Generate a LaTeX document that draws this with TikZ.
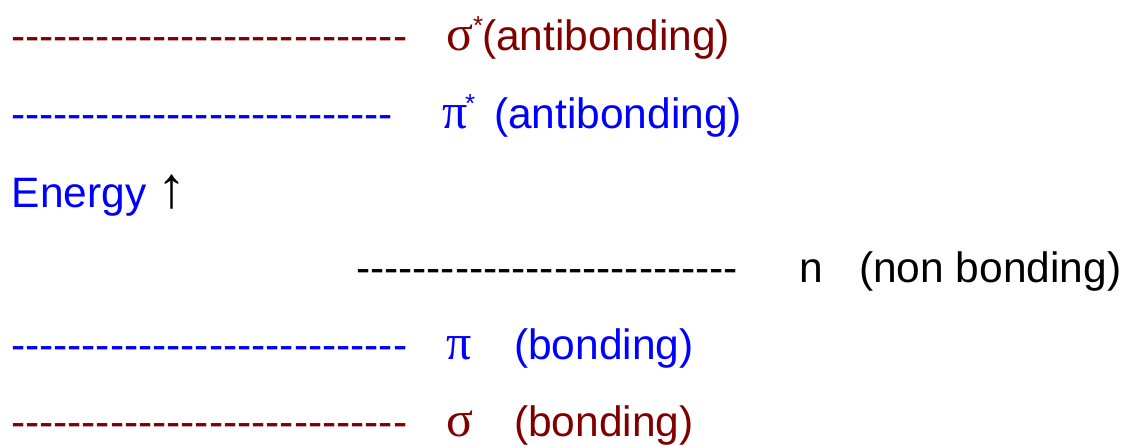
\documentclass[tikz,border=0pt]{standalone}
\usepackage{fontspec}
\setmainfont{Liberation Sans}
\newfontfamily\grk{Liberation Serif}
\definecolor{dred}{HTML}{800000}
\definecolor{lblue}{HTML}{0000FF}
\newcommand\dashrow[1]{\foreach\k in {1,...,#1}{-{}}}
\newcommand\supstar{\raisebox{16pt}{\fontsize{26}{26}\selectfont *}}
\begin{document}
\begin{tikzpicture}[x=1pt,y=-1pt,
  txt/.style={inner sep=0pt,outer sep=0pt,anchor=base west,font=\fontsize{42.5}{50}\selectfont},
  greek/.style={txt,font=\fontsize{50}{56}\selectfont\grk},
  arrowglyph/.style={txt,font=\fontsize{58}{64}\selectfont\grk}]
\useasboundingbox (0,0) rectangle (1121,446);
% row 1: sigma*
\node[txt,dred] (d1) at (11,51) {\dashrow{28}};
\node[greek,dred] (g1) at (446,51) {σ};
\node[txt,dred] (st1) at (473,51) {\supstar};
\node[txt,dred] (l1) at (482,51) {(antibonding)};
% row 2: pi*
\node[txt,lblue] (d2) at (11,129) {\dashrow{27}};
\node[greek,lblue] (g2) at (442,129) {π};
\node[txt,lblue] (st2) at (465,129) {\supstar};
\node[txt,lblue] (l2) at (494,129) {(antibonding)};
% row 3: energy
\node[txt,lblue] (en) at (12,208) {Energy};
\node[arrowglyph,black] (ar) at (157,208) {↑};
% row 4: n
\node[txt,black] (d4) at (356,282) {\dashrow{27}};
\node[txt,black] (g4) at (799,282) {n};
\node[txt,black] (l4) at (859,282) {(non bonding)};
% row 5: pi
\node[txt,lblue] (d5) at (11,359) {\dashrow{28}};
\node[greek,lblue] (g5) at (446,359) {π};
\node[txt,lblue] (l5) at (514,359) {(bonding)};
% row 6: sigma
\node[txt,dred] (d6) at (11,436) {\dashrow{28}};
\node[greek,dred] (g6) at (446,436) {σ};
\node[txt,dred] (l6) at (514,436) {(bonding)};
\end{tikzpicture}
\end{document}
